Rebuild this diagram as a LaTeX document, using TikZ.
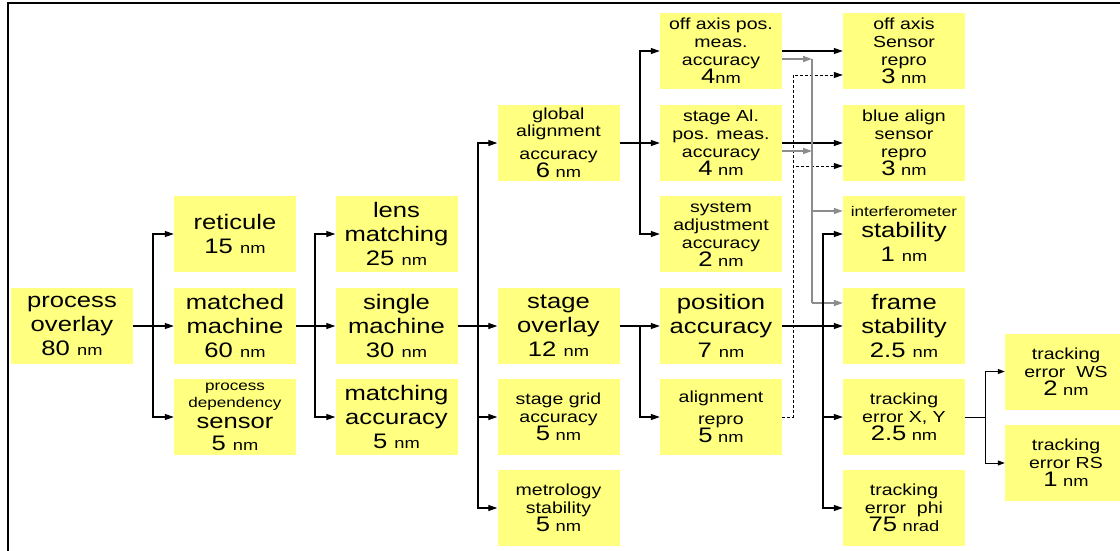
\documentclass[tikz,border=0pt]{standalone}
\usepackage{fontspec}
\setmainfont{Liberation Sans}[FakeStretch=1.22]
\usetikzlibrary{arrows.meta,calc}
\definecolor{boxy}{HTML}{FFFF80}
\definecolor{arrgray}{HTML}{8C8C8C}
\newcommand\fL{\fontsize{21}{24}\selectfont}
\newcommand\fM{\fontsize{16}{18}\selectfont}
\newcommand\fS{\fontsize{14}{17}\selectfont}
\newcommand\fN{\fontsize{15}{18}\selectfont}
\begin{document}
\begin{tikzpicture}[x=1pt,y=-1pt,
  box/.style={fill=boxy, minimum width=122pt, minimum height=76pt, inner sep=0pt, align=center, font=\fM},
  lbox/.style={box, font=\fL},
  arr/.style={-{Triangle[length=9pt,width=6pt]}, line width=1.2pt},
  sarr/.style={-{Triangle[length=7pt,width=5pt]}, line width=1pt},
  garr/.style={arrgray, line width=1.5pt, -{Triangle[length=9pt,width=6pt]}},
  gline/.style={arrgray, line width=1.5pt},
  darr/.style={dash pattern=on 3pt off 2pt, line width=1pt, -{Triangle[length=9pt,width=6pt]}}]
\clip (0,0) rectangle (1120,550);
\fill[white] (0,0) rectangle (1120,550);
% column 1
\node[lbox] (po) at (72,326) {process\\ overlay\\ 80 {\fN nm}};
% column 2
\node[lbox] (ret) at (235,234) {reticule\\ 15 {\fN nm}};
\node[lbox] (mm) at (235,326) {matched\\ machine\\ 60 {\fN nm}};
\node[lbox] (pds) at (235,417) {{\fS process}\\[-7pt]{\fS dependency}\\[-3pt] sensor\\[-2pt] 5 {\fN nm}};
% column 3
\node[lbox] (lm) at (396.5,234) {lens\\ matching\\ 25 {\fN nm}};
\node[lbox] (sm) at (396.5,326) {single\\ machine\\ 30 {\fN nm}};
\node[lbox] (ma) at (396.5,417) {matching\\ accuracy\\ 5 {\fN nm}};
% column 4
\node[box] (ga) at (558.5,143) {global\\[-1pt] alignment\\[5pt] accuracy\\ {\fL 6} {\fN nm}};
\node[lbox] (so) at (558.5,326) {stage\\ overlay\\ 12 {\fN nm}};
\node[box] (sg) at (558.5,417) {stage grid\\ accuracy\\ {\fL 5} {\fN nm}};
\node[box] (ms) at (558.5,508) {metrology\\ stability\\ {\fL 5} {\fN nm}};
% column 5
\node[box] (oa) at (721,51) {off axis pos.\\ meas.\\ accuracy\\ {\fL 4}{\fN nm}};
\node[box] (sa) at (721,143) {stage Al.\\ pos. meas.\\ accuracy\\ {\fL 4} {\fN nm}};
\node[box] (sys) at (721,234) {system\\ adjustment\\ accuracy\\ {\fL 2} {\fN nm}};
\node[lbox] (pa) at (721,326) {position\\ accuracy\\ 7 {\fN nm}};
\node[box] (ar) at (721,417) {alignment\\[4pt] repro\\ {\fL 5} {\fN nm}};
% column 6
\node[box] (oas) at (904,51) {off axis\\ Sensor\\ repro\\ {\fL 3} {\fN nm}};
\node[box] (bas) at (904,143) {blue align\\ sensor\\ repro\\ {\fL 3} {\fN nm}};
\node[lbox] (ifm) at (904,234) {{\fS interferometer}\\[-3pt] stability\\ 1 {\fN nm}};
\node[lbox] (fs) at (904,326) {frame\\ stability\\ 2.5 {\fN nm}};
\node[box] (txy) at (904,417) {tracking\\ error X, Y\\ {\fL 2.5} {\fN nm}};
\node[box] (tph) at (904,508) {tracking\\ error~~phi\\ {\fL 75} {\fN nrad}};
% column 7
\node[box] (ws) at (1066,371.5) {tracking\\ error~~WS\\ {\fL 2} {\fN nm}};
\node[box] (rs) at (1066,463) {tracking\\ error RS\\ {\fL 1} {\fN nm}};
% bus coordinates
\coordinate (b1) at (153,0);
\coordinate (b2) at (315,0);
\coordinate (b3) at (478,0);
\coordinate (b4) at (640,0);
\coordinate (b6) at (823,0);
\coordinate (b7) at (985,0);
\coordinate (g) at (812,0);
\coordinate (d) at (793,0);
% black connectors
\foreach \t in {ret,mm,pds} \draw[arr] (po.east) -- (po.east -| b1) |- (\t.west);
\foreach \t in {lm,sm,ma} \draw[arr] (mm.east) -- (mm.east -| b2) |- (\t.west);
\foreach \t in {ga,so,sg,ms} \draw[arr] (sm.east) -- (sm.east -| b3) |- (\t.west);
\foreach \t in {pa,ar} \draw[arr] (so.east) -- (so.east -| b4) |- (\t.west);
\foreach \t in {oa,sa,sys} \draw[arr] (ga.east) -- (ga.east -| b4) |- (\t.west);
\draw[arr] (oa.east) -- (oas.west);
\draw[arr] (sa.east) -- (bas.west);
% dashed connectors
\coordinate (oas24) at ($(oas.west)+(0,24)$);
\coordinate (bas23) at ($(bas.west)+(0,23)$);
\draw[darr] (ar.east) -- (ar.east -| d) |- (oas24);
\draw[darr] (ar.east) -- (ar.east -| d) |- (bas23);
% gray connectors
\coordinate (oa8) at ($(oa.east)+(0,8)$);
\coordinate (sa8) at ($(sa.east)+(0,8)$);
\coordinate (ifm23) at ($(ifm.west)+(0,-23)$);
\coordinate (fs23) at ($(fs.west)+(0,-23)$);
\draw[gline] (oa8 -| g) -- (fs23 -| g);
\draw[garr] (oa8) -- (oa8 -| g);
\draw[garr] (sa8) -- (sa8 -| g);
\draw[garr] (ifm23 -| g) -- (ifm23);
\draw[garr] (fs23 -| g) -- (fs23);
% position accuracy bus
\foreach \t in {ifm,fs,txy,tph} \draw[arr] (pa.east) -- (pa.east -| b6) |- (\t.west);
% tracking bus
\foreach \t in {ws,rs} \draw[sarr] (txy.east) -- (txy.east -| b7) |- (\t.west);
% frame
\draw[line width=2.5pt] (8,552) -- (8,3) -- (1125,3);
\end{tikzpicture}
\end{document}
